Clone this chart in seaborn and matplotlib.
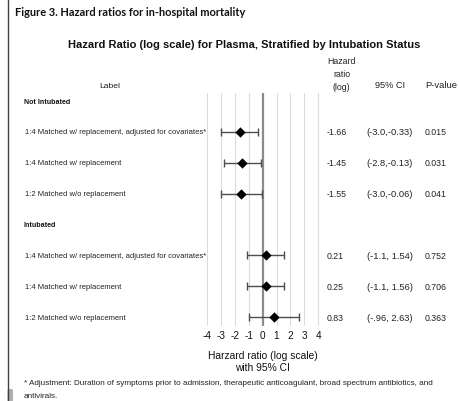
import matplotlib
matplotlib.use("Agg")
import matplotlib.pyplot as plt
import matplotlib.transforms as mtransforms
from matplotlib.patches import FancyBboxPatch
from matplotlib.lines import Line2D
import seaborn as sns
import pandas as pd
import numpy as np

# ---- data ----
row_labels = ["Not Intubated",
              "1:4 Matched w/ replacement, adjusted for covariates*",
              "1:4 Matched w/ replacement",
              "1:2 Matched w/o replacement",
              "Intubated",
              "1:4 Matched w/ replacement, adjusted for covariates*",
              "1:4 Matched w/ replacement",
              "1:2 Matched w/o replacement"]
is_header = [True, False, False, False, True, False, False, False]
hr_log = [None, -1.66, -1.45, -1.55, None, 0.21, 0.25, 0.83]
ci_low = [None, -3.0, -2.8, -3.0, None, -1.1, -1.1, -0.96]
ci_high = [None, -0.33, -0.13, -0.06, None, 1.54, 1.56, 2.63]
hr_text = ["", "-1.66", "-1.45", "-1.55", "", "0.21", "0.25", "0.83"]
ci_text = ["", "(-3.0,-0.33)", "(-2.8,-0.13)", "(-3.0,-0.06)", "",
           "(-1.1, 1.54)", "(-1.1, 1.56)", "(-.96, 2.63)"]
p_text = ["", "0.015", "0.031", "0.041", "", "0.752", "0.706", "0.363"]
x_ticks = [-4, -3, -2, -1, 0, 1, 2, 3, 4]

sns.set_style("white")
plt.rcParams['font.family'] = ['Liberation Sans', 'DejaVu Sans']

W, H = 460, 402
fig = plt.figure(figsize=(W / 100, H / 100), dpi=100)

def fx(px):
    return px / W

def fy(py):
    return 1 - py / H

ax_left, ax_right, ax_top, ax_bot = 200.0, 325.2, 94.3, 326.5
ax = fig.add_axes([fx(ax_left), fy(ax_bot), fx(ax_right - ax_left), (ax_bot - ax_top) / H])

df = pd.DataFrame({"pos": np.arange(len(row_labels)), "label": row_labels,
                   "hr": hr_log, "lo": ci_low, "hi": ci_high})
dd = df.dropna(subset=["hr"]).copy()
dd[["hr", "lo", "hi"]] = dd[["hr", "lo", "hi"]].astype(float)

for t in x_ticks:
    if t == 0:
        ax.axvline(0, color="#8c8c8c", lw=1.6, zorder=1)
    else:
        ax.axvline(t, color="#dcdcdc", lw=0.8, zorder=0)

ax.errorbar(dd["hr"], dd["pos"], xerr=[dd["hr"] - dd["lo"], dd["hi"] - dd["hr"]],
            fmt="none", ecolor="#4d4d4d", elinewidth=1.0, capsize=3.2, capthick=1.0, zorder=2)
sns.scatterplot(data=dd, x="hr", y="pos", marker="D", s=28, color="black",
                edgecolor="black", linewidth=0, ax=ax, zorder=3, legend=False)

ax.set_xlim(-4.5, 4.5)
ax.set_ylim(7.27, -0.25)
ax.set_xticks(x_ticks)
ax.set_xticklabels([str(t) for t in x_ticks], fontsize=7.2, color="#111111")
ax.set_yticks([])
ax.tick_params(axis="x", length=0, pad=3.5)
for s in ax.spines.values():
    s.set_visible(False)
ax.set_xlabel("Harzard ratio (log scale)\nwith 95% CI", fontsize=7.4, labelpad=7,
              color="#111111", linespacing=1.2)
ax.set_ylabel("")
ax.patch.set_alpha(0)

tr = mtransforms.blended_transform_factory(fig.transFigure, ax.transData)
for i, lab in enumerate(row_labels):
    if is_header[i]:
        ax.text(fx(24), i, lab, transform=tr, fontsize=5.1, fontweight="bold",
                va="center", ha="left", color="#111111")
    else:
        ax.text(fx(25), i, lab, transform=tr, fontsize=5.5, va="center", ha="left",
                color="#222222")
        ax.text(fx(327), i, hr_text[i], transform=tr, fontsize=6.3, va="center",
                ha="left", color="#222222")
        ax.text(fx(389.5), i, ci_text[i], transform=tr, fontsize=6.7, va="center",
                ha="center", color="#222222")
        ax.text(fx(425), i, p_text[i], transform=tr, fontsize=6.3, va="center",
                ha="left", color="#222222")

# column headers
fig.text(fx(110), fy(86), "Label", fontsize=6.1, ha="center", va="center", color="#222222")
fig.text(fx(341.5), fy(74.5), "Hazard\nratio\n(log)", fontsize=6.3, ha="center", va="center",
         color="#222222", linespacing=1.5)
fig.text(fx(390), fy(86), "95% CI", fontsize=6.6, ha="center", va="center", color="#222222")
fig.text(fx(441), fy(86), "P-value", fontsize=6.8, ha="center", va="center", color="#222222")

# titles
fig.text(fx(15), fy(12), "Figure 3. Hazard ratios for in-hospital mortality", fontsize=7.95,
         fontweight="bold", family=["Lato", "DejaVu Sans"], ha="left", va="center", color="#111111")
fig.text(fx(244), fy(45), "Hazard Ratio (log scale) for Plasma, Stratified by Intubation Status",
         fontsize=8.0, fontweight="bold", ha="center", va="center", color="#111111")

# footnote
fig.text(fx(24), fy(384), "* Adjustment: Duration of symptoms prior to admission, therapeutic anticoagulant, broad spectrum antibiotics, and",
         fontsize=5.9, ha="left", va="center", color="#222222")
fig.text(fx(24), fy(397), "antivirals.", fontsize=5.9, ha="left", va="center", color="#222222")

# page decorations
fig.add_artist(Line2D([fx(8), fx(8)], [0, 1], transform=fig.transFigure, color="#404040", lw=1.0))
fig.add_artist(FancyBboxPatch((fx(7.5), fy(403)), fx(5.5), 13 / H, boxstyle="round,pad=0,rounding_size=0.004",
                              transform=fig.transFigure, facecolor="#b0b0b0", edgecolor="none"))

fig.savefig("out.png", dpi=100)
